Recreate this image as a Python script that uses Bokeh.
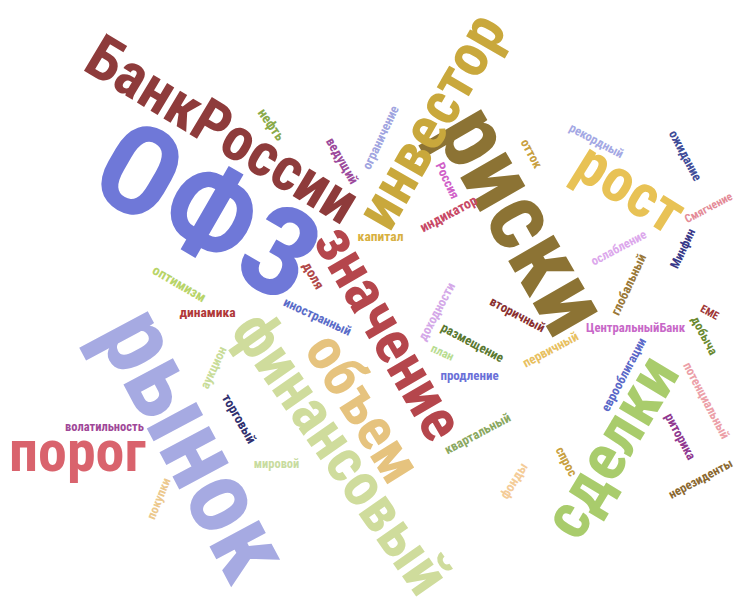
import math
from bokeh.plotting import figure
from bokeh.models import ColumnDataSource, Range1d
from bokeh.core.properties import value
from bokeh.embed import file_html
from bokeh.resources import INLINE

# ---- data: words and their weights (relative frequency -> font size) ----
words = ["ОФЗ", "рынок", "риски", "БанкРоссии", "инвестор", "значение", "объем",
         "финансовый", "сделки", "рост", "порог",
         "нефть", "ведущий", "ограничение", "Россия", "индикатор", "капитал", "доля",
         "оптимизм", "динамика", "иностранный", "аукцион", "торговый", "волатильность",
         "мировой", "покупки", "доходности", "размещение", "план", "продление",
         "вторичный", "первичный", "ЦентральныйБанк", "глобальный", "ослабление",
         "Минфин", "Смягчение", "ожидание", "рекордный", "отток", "ЕМЕ", "добыча",
         "еврооблигации", "потенциальный", "риторика", "квартальный", "фонды", "спрос",
         "нерезиденты"]
weights = [125, 106, 99, 61, 61, 61, 60,
           62, 66, 61, 58,
           14, 13.5, 13, 13, 14, 13.5, 14,
           14, 13.5, 13, 13, 13.5, 12.5,
           12.5, 12.5, 13, 13, 12, 13,
           13, 13, 12.7, 13, 12.5,
           12.5, 11.5, 13, 12.6, 13, 11, 12.8,
           12.8, 12.8, 13, 13, 13.5, 13,
           12.5]

# ---- layout (pixel positions in the 735x612 frame, rotation in degrees CCW) ----
x_pos = [207, 195, 523, 222, 430, 389, 363,
         341, 610, 630, 77,
         271, 342, 380, 447, 448, 380, 313,
         179, 207, 317, 213, 239, 104,
         276, 158, 436, 472, 442, 469,
         517, 550, 635, 628, 618,
         682, 708, 685, 596, 531, 709, 704,
         623, 706, 680, 477, 513, 566,
         700]
y_pos = [211, 443, 219, 129, 120, 332, 407,
         452, 446, 187, 450,
         124, 160, 137, 180, 213, 235, 275,
         283, 311, 316, 367, 418, 426,
         463, 498, 311, 342, 352, 375,
         314, 349, 327, 284, 247,
         248, 207, 155, 140, 153, 312, 335,
         374, 400, 436, 433, 480, 461,
         478]
angles = [-30, -62, -60, -31, 60, -60, -58,
          -55, 59, -32, 0,
          -55, -60, 65, -65, 28, 0, -60,
          -30, 0, -25, 65, -60, 0,
          0, 68, 62, -28, -25, 0,
          -28, 28, 0, 65, 28,
          65, 28, -62, -28, -62, -28, -62,
          62, -62, -62, 28, 58, -62,
          28]
colors = ["#6f78d8", "#a6aae2", "#8c7334", "#8e3b3b", "#c9a83c", "#b5464c", "#e6c37e",
          "#cfdc9c", "#a9cc6c", "#e8c255", "#d9636d",
          "#8aaa4a", "#9c4a9c", "#a0a4e0", "#d060c8", "#c84a66", "#d8b040", "#b04848",
          "#b8d468", "#b03838", "#5a6cc8", "#c8dc98", "#303070", "#a04898",
          "#c8dca0", "#ecc88c", "#d4a8e8", "#5a7830", "#b8dc90", "#6a70d8",
          "#8a3030", "#e8c060", "#c868c8", "#9a7838", "#dca8ec",
          "#383888", "#e48c98", "#404c98", "#a4a8e4", "#c8a040", "#a03838", "#6a8a30",
          "#5a68c8", "#eca0a8", "#903890", "#8aa860", "#f4cc98", "#c8a040",
          "#8a6830"]

sizes = [("%.1f" % w).rstrip("0").rstrip(".") + "px" for w in weights]

src = ColumnDataSource(dict(
    x=x_pos, y=y_pos, text=words,
    angle=[math.radians(a) for a in angles],
    color=colors, size=sizes,
))

W, H = 735, 612
p = figure(width=W, height=H, output_backend="svg", toolbar_location=None,
           x_range=Range1d(0, W), y_range=Range1d(H, 0),
           min_border=0, outline_line_color=None)
p.axis.visible = False
p.grid.visible = False
p.background_fill_color = "white"

FONT = "'Roboto Condensed', 'DejaVu Sans Condensed', 'Liberation Sans Narrow', 'Open Sans Condensed', Roboto, sans-serif"
p.text(x="x", y="y", text="text", angle="angle", source=src,
       text_color="color", text_font_size="size",
       text_font=value(FONT), text_font_style="bold",
       text_align="center", text_baseline="middle")

open("out.html", "w").write(file_html(p, INLINE))
